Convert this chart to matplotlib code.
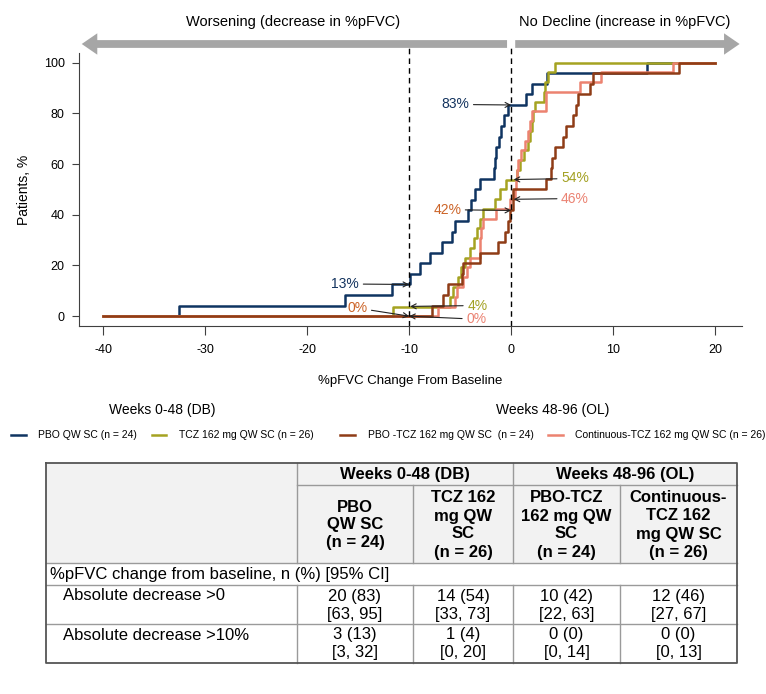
import matplotlib.pyplot as plt
import numpy as np

plt.rcParams['font.family'] = ['Liberation Sans', 'DejaVu Sans']
plt.rcParams['axes.unicode_minus'] = False

# step positions (%pFVC change) and cumulative % of patients
pbo_x = [-32.6, -16.3, -11.7, -9.9, -8.95, -7.95, -6.8, -5.8, -5.5, -4.2, -3.9, -3.5,
         -3.1, -1.65, -1.6, -1.45, -1.2, -1.0, -0.7, -0.35, 1.5, 2.0, 3.5, 13.3]
pbo_y = [4.2, 8.3, 12.5, 16.7, 20.8, 25.0, 29.2, 33.3, 37.5, 41.7, 45.8, 50.0,
         54.2, 58.3, 62.5, 66.7, 70.8, 75.0, 79.2, 83.3, 87.5, 91.7, 95.8, 100.0]

tcz_x = [-11.6, -6.0, -5.7, -5.2, -4.9, -4.5, -4.05, -3.6, -3.3, -3.05, -2.75, -1.6, -1.1,
         -0.5, 0.6, 0.85, 1.3, 1.65, 1.85, 2.0, 2.15, 2.3, 3.2, 3.35, 3.6, 4.3]
tcz_y = [3.8, 7.7, 11.5, 15.4, 19.2, 23.1, 26.9, 30.8, 34.6, 38.5, 42.3, 46.2, 50.0,
         53.8, 57.7, 61.5, 65.4, 69.2, 73.1, 76.9, 80.8, 84.6, 88.5, 92.3, 96.2, 100.0]

cont_x = [-7.15, -5.5, -5.35, -4.7, -4.3, -4.05, -3.1, -3.05, -3.0, -2.75, -1.45, -0.15, 0.35,
          0.5, 0.6, 0.7, 1.0, 1.35, 1.65, 1.85, 2.0, 3.4, 3.45, 6.8, 8.8, 15.9]
cont_y = [3.8, 7.7, 11.5, 15.4, 19.2, 23.1, 26.9, 30.8, 34.6, 38.5, 42.3, 46.2, 50.0,
          53.8, 57.7, 61.5, 65.4, 69.2, 73.1, 76.9, 80.8, 84.6, 88.5, 92.3, 96.2, 100.0]

pbotcz_x = [-7.8, -6.7, -6.15, -4.85, -4.7, -3.05, -1.3, -0.6, -0.3, -0.1, 0.15, 0.2,
            3.45, 3.9, 3.96, 4.3, 5.1, 5.4, 6.05, 6.35, 6.55, 7.7, 8.05, 16.5]
pbotcz_y = [4.2, 8.3, 12.5, 16.7, 20.8, 25.0, 29.2, 33.3, 37.5, 41.7, 45.8, 50.0,
            54.2, 58.3, 62.5, 66.7, 70.8, 75.0, 79.2, 83.3, 87.5, 91.7, 95.8, 100.0]

labels_db = ['PBO QW SC (n = 24)', 'TCZ 162 mg QW SC (n = 26)']
labels_ol = ['PBO -TCZ 162 mg QW SC  (n = 24)', 'Continuous-TCZ 162 mg QW SC (n = 26)']

# (label, tip x, tip y, text x, text y, side)
callouts = [('83%', 0, 83.3, -4.1, 83.5, 'right'),
            ('13%', -10, 12.5, -14.9, 12.7, 'right'),
            ('0%', -10, 0, -14.1, 3.2, 'right'),
            ('42%', 0, 41.7, -4.9, 42.0, 'right'),
            ('4%', -9.9, 3.85, -4.3, 4.2, 'left'),
            ('0%', -10, 0, -4.4, -1.2, 'left'),
            ('54%', 0.25, 53.9, 4.9, 54.3, 'left'),
            ('46%', 0.25, 46.1, 4.9, 46.4, 'left')]
callout_colors = ['#13335e', '#13335e', '#cc6428', '#cc6428',
                  '#a3a123', '#eb8373', '#a3a123', '#eb8373']

# table contents
col_groups = ['Weeks 0-48 (DB)', 'Weeks 48-96 (OL)']
col_heads = ['PBO\nQW SC\n(n = 24)', 'TCZ 162\nmg QW\nSC\n(n = 26)',
             'PBO-TCZ\n162 mg QW\nSC\n(n = 24)', 'Continuous-\nTCZ 162\nmg QW SC\n(n = 26)']
section_label = '%pFVC change from baseline, n (%) [95% CI]'
row_labels = ['Absolute decrease >0', 'Absolute decrease >10%']
row_counts = [['20 (83)', '14 (54)', '10 (42)', '12 (46)'],
              ['3 (13)', '1 (4)', '0 (0)', '0 (0)']]
row_ci = [['[63, 95]', '[33, 73]', '[22, 63]', '[27, 67]'],
          ['[3, 32]', '[0, 20]', '[0, 14]', '[0, 13]']]

c_pbo = '#0f3461'
c_tcz = '#a5a321'
c_pbotcz = '#8f3c16'
c_cont = '#ec8270'

fig = plt.figure(figsize=(7.66, 6.94), dpi=100)
ax = fig.add_axes([0.1027, 0.530, 0.8655, 0.394])

def steps(x, y):
    return np.r_[-40, x, 20], np.r_[0, y, 100]

l1, = ax.step(*steps(pbo_x, pbo_y), where='post', color=c_pbo, lw=1.8)
l2, = ax.step(*steps(tcz_x, tcz_y), where='post', color=c_tcz, lw=1.8)
l4, = ax.step(*steps(cont_x, cont_y), where='post', color=c_cont, lw=1.8)
l3, = ax.step(*steps(pbotcz_x, pbotcz_y), where='post', color=c_pbotcz, lw=1.8)

ax.set_xlim(-42.4, 22.6)
ax.set_ylim(-3.95, 103.9)
ax.set_xticks(np.arange(-40, 21, 10))
ax.set_yticks(np.arange(0, 101, 20))
ax.spines['top'].set_visible(False)
ax.spines['right'].set_visible(False)
for s in ['left', 'bottom']:
    ax.spines[s].set_color('#404040')
ax.tick_params(axis='x', length=6.5, pad=6, labelsize=9, color='#404040')
ax.tick_params(axis='y', length=5, pad=5, labelsize=9, color='#404040')
ax.set_xlabel('%pFVC Change From Baseline', fontsize=9.5, labelpad=14)
ax.set_ylabel('Patients, %', fontsize=10, labelpad=9)

ax.vlines([-10, 0], -3.95, 106, colors='k', linestyles=(0, (4, 3)), lw=1, clip_on=False)

for (txt, tx, ty, sx, sy, side), col in zip(callouts, callout_colors):
    ax.annotate(txt, xy=(tx, ty), xytext=(sx, sy), ha=side, va='center', color=col,
                fontsize=10,
                arrowprops=dict(arrowstyle='->,head_length=0.35,head_width=0.18',
                                color='#222222', lw=0.8, shrinkA=1, shrinkB=0))

# direction arrows above the plot
arrow_kw = dict(arrowstyle='simple,head_length=0.8,head_width=1.1,tail_width=0.4',
                mutation_scale=14, color='#a6a6a6', lw=0, shrinkA=0, shrinkB=0)
ax.annotate('', xy=(-42.1, 1.032), xytext=(-0.4, 1.032),
            xycoords=('data', 'axes fraction'), textcoords=('data', 'axes fraction'),
            arrowprops=arrow_kw, annotation_clip=False)
ax.annotate('', xy=(22.4, 1.032), xytext=(0.4, 1.032),
            xycoords=('data', 'axes fraction'), textcoords=('data', 'axes fraction'),
            arrowprops=arrow_kw, annotation_clip=False)
ax.text(-21.4, 1.112, 'Worsening (decrease in %pFVC)', transform=ax.get_xaxis_transform(),
        ha='center', va='center', fontsize=10.5)
ax.text(11.1, 1.112, 'No Decline (increase in %pFVC)', transform=ax.get_xaxis_transform(),
        ha='center', va='center', fontsize=10.5)

leg_kw = dict(loc='upper center', ncol=2, frameon=False, fontsize=7.5, title_fontsize=10,
              handlelength=1.4, handletextpad=1.2, columnspacing=1.4, labelspacing=1.3)
fig.legend([l1, l2], labels_db, title='Weeks 0-48 (DB)', bbox_to_anchor=(0.212, 0.433), **leg_kw)
fig.legend([l3, l4], labels_ol, title='Weeks 48-96 (OL)', bbox_to_anchor=(0.722, 0.433), **leg_kw)

# table, drawn in pixel coordinates on an overlay axes
tax = fig.add_axes([0, 0, 1, 1])
tax.set_xlim(0, 766)
tax.set_ylim(694, 0)
tax.axis('off')

cols = [46, 297, 413, 513, 620, 737]
rows = [463, 485, 563, 585, 624, 663]
grid = '#9a9a9a'

tax.fill_between([cols[0], cols[-1]], rows[0], rows[2], color='#f2f2f2', lw=0)
tax.plot([cols[1], cols[-1]], [rows[1]] * 2, color=grid, lw=1)
for r in rows[2:5]:
    tax.plot([cols[0], cols[-1]], [r, r], color=grid, lw=1)
tax.plot([cols[1]] * 2, [rows[0], rows[2]], color=grid, lw=1)
tax.plot([cols[3]] * 2, [rows[0], rows[2]], color=grid, lw=1)
for c in [cols[2], cols[4]]:
    tax.plot([c, c], [rows[1], rows[2]], color=grid, lw=1)
for c in cols[1:5]:
    tax.plot([c, c], [rows[3], rows[5]], color=grid, lw=1)
tax.plot([cols[0], cols[-1], cols[-1], cols[0], cols[0]],
         [rows[0], rows[0], rows[5], rows[5], rows[0]], color='#555555', lw=1.3)

fs = 12
tax.text((cols[1] + cols[3]) / 2, (rows[0] + rows[1]) / 2, col_groups[0],
         ha='center', va='center', fontsize=fs, fontweight='bold')
tax.text((cols[3] + cols[5]) / 2, (rows[0] + rows[1]) / 2, col_groups[1],
         ha='center', va='center', fontsize=fs, fontweight='bold')
for i, h in enumerate(col_heads):
    tax.text((cols[i + 1] + cols[i + 2]) / 2, (rows[1] + rows[2]) / 2 + 1, h,
             ha='center', va='center', fontsize=fs, fontweight='bold', linespacing=1.25)
tax.text(cols[0] + 4, (rows[2] + rows[3]) / 2, section_label, ha='left', va='center', fontsize=fs)
for j in range(2):
    top = rows[3 + j]
    tax.text(cols[0] + 17, top + 11, row_labels[j], ha='left', va='center', fontsize=fs)
    for i in range(4):
        cx = (cols[i + 1] + cols[i + 2]) / 2
        tax.text(cx, top + 11, row_counts[j][i], ha='center', va='center', fontsize=fs)
        tax.text(cx, top + 29, row_ci[j][i], ha='center', va='center', fontsize=fs)

fig.savefig('out.png', dpi=100)
